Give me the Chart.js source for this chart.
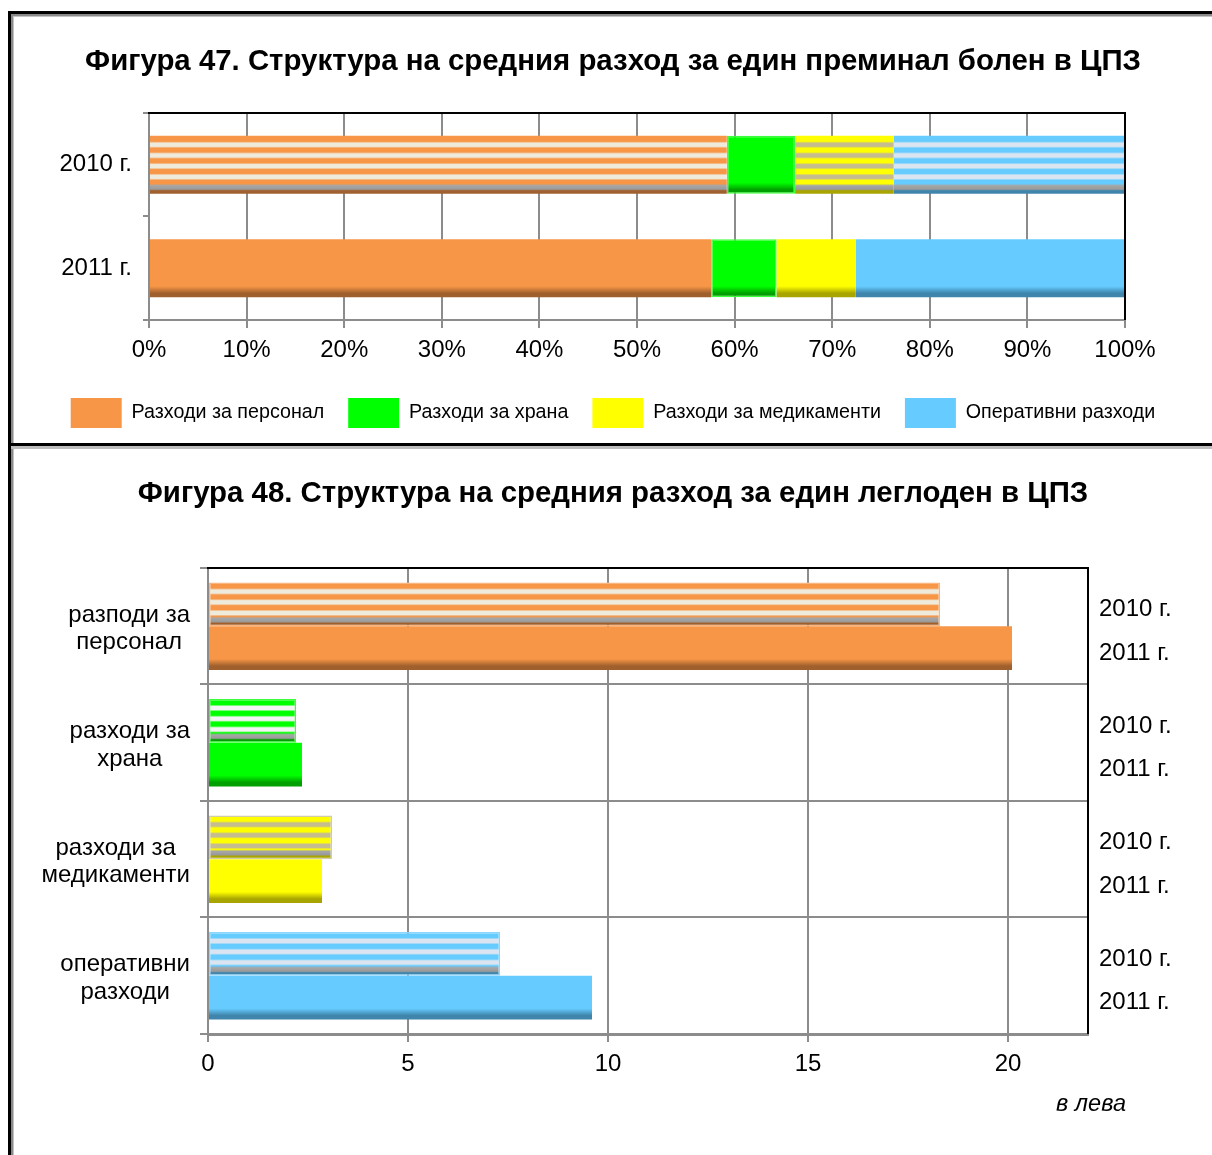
<!DOCTYPE html>
<html lang="bg">
<head>
<meta charset="utf-8">
<title>Фигура 47 и 48</title>
<script src="https://cdn.jsdelivr.net/npm/chart.js@4.4.1/dist/chart.umd.min.js"></script>
<style>
  html, body { margin: 0; padding: 0; background: #fff; }
  body { width: 1212px; height: 1155px; position: relative; overflow: hidden; }
  .ln { position: absolute; }
  .box { position: absolute; left: 14px; width: 1198px; }
  #box47 { top: 17px; height: 426px; }
  #box48 { top: 450px; height: 705px; }
</style>
</head>
<body>
<!-- рамка на страницата -->
<div class="ln" style="left:8px;top:11px;width:3px;height:1144px;background:#000"></div>
<div class="ln" style="left:11px;top:14px;width:2px;height:1141px;background:#8a8a8a"></div>
<div class="ln" style="left:13px;top:16px;width:1px;height:1139px;background:#c4c4c4"></div>
<div class="ln" style="left:8px;top:11px;width:1204px;height:3px;background:#000"></div>
<div class="ln" style="left:11px;top:14px;width:1201px;height:2px;background:#8a8a8a"></div>
<div class="ln" style="left:13px;top:16px;width:1199px;height:1px;background:#c4c4c4"></div>
<div class="ln" style="left:11px;top:443px;width:1201px;height:3px;background:#000"></div>
<div class="ln" style="left:11px;top:446px;width:1201px;height:3px;background:#bdbdbd"></div>

<div class="box" id="box47"><canvas id="fig47"></canvas></div>
<div class="box" id="box48"><canvas id="fig48"></canvas></div>

<script>
// ---- данни ----
const years = ['2010 г.', '2011 г.'];
const costNames = ['Разходи за персонал', 'Разходи за храна', 'Разходи за медикаменти', 'Оперативни разходи'];

// Фигура 47: дял от разхода за един преминал болен, % (2010, 2011)
const sharePersonal = [59.2, 57.6];
const shareFood     = [7.0, 6.7];
const shareMeds     = [10.1, 8.1];
const shareOper     = [23.7, 27.6];
const pctTicks      = [0, 10, 20, 30, 40, 50, 60, 70, 80, 90, 100];

// Фигура 48: разход за един леглоден, лв.
const costLabels48 = [['разподи за', 'персонал'], ['разходи за', 'храна'], ['разходи за', 'медикаменти'], ['оперативни', 'разходи']];
const leva2010 = [18.3, 2.2, 3.1, 7.3];
const leva2011 = [20.1, 2.35, 2.85, 9.6];

// ---- оформление ----
const baseColors   = ['#F79646', '#00FF00', '#FFFF00', '#66CCFF'];
const stripeColors = ['#EEEBDD', '#F4F4F4', '#C6BD8E', '#DAE5F1'];
const shadeColors  = ['#A0602E', '#00A000', '#A8A400', '#3F85AC'];
const edgeColors   = ['#FAB47E', '#3CFF3C', '#D4CCA4', '#8AD6FF'];
const GRID = '#8c8c8c';
const FONT = '"Liberation Sans", Arial, Helvetica, sans-serif';
const AXIS_SIZE = 24;

Chart.defaults.font.family = FONT;
Chart.defaults.color = '#000';

// вертикален градиент за една лента: райета (2010) или плътен цвят със сянка отдолу
function makeFill(ctx, top, bottom, k, striped) {
  const h = bottom - top;
  const g = ctx.createLinearGradient(0, top, 0, bottom);
  const at = px => Math.min(1, Math.max(0, px / h));
  const base = baseColors[k];
  g.addColorStop(0, base);
  if (striped) {
    for (let c = 9; c < h - 13; c += 10.7) {
      g.addColorStop(at(c - 3.4), base);
      g.addColorStop(at(c - 1.6), stripeColors[k]);
      g.addColorStop(at(c + 1.6), stripeColors[k]);
      g.addColorStop(at(c + 3.4), base);
    }
    g.addColorStop(at(h - 10), base);
    g.addColorStop(at(h - 8), '#a6a6a6');
    g.addColorStop(at(h - 4.5), '#9a9a9a');
    g.addColorStop(at(h - 3), shadeColors[k]);
    g.addColorStop(1, shadeColors[k]);
  } else {
    g.addColorStop(at(h - 11), base);
    g.addColorStop(at(h - 4), shadeColors[k]);
    g.addColorStop(1, shadeColors[k]);
  }
  return g;
}

function barShading(colorOf, stripedOf) {
  return {
    id: 'barShading',
    beforeDatasetsDraw(chart) {
      const ctx = chart.ctx;
      chart.data.datasets.forEach((ds, di) => {
        chart.getDatasetMeta(di).data.forEach((bar, i) => {
          const top = bar.y - bar.height / 2;
          bar.options.backgroundColor = makeFill(ctx, top, top + bar.height, colorOf(di, i), stripedOf(di, i));
        });
      });
    }
  };
}

// черна рамка отгоре и отдясно на полето
const plotFrame = {
  id: 'plotFrame',
  afterDatasetsDraw(chart) {
    const { ctx, chartArea: a } = chart;
    ctx.save();
    ctx.strokeStyle = '#000';
    ctx.lineWidth = 2;
    ctx.beginPath();
    ctx.moveTo(a.left - 1, a.top);
    ctx.lineTo(a.right, a.top);
    ctx.lineTo(a.right, a.bottom);
    ctx.stroke();
    ctx.restore();
  }
};

const padAxis = w => ({
  type: 'category', position: 'right',
  grid: { display: false }, border: { display: false }, ticks: { display: false },
  afterFit: s => { s.width = w; }
});

// ---- Фигура 47 ----
const shares47 = [sharePersonal, shareFood, shareMeds, shareOper];
new Chart(document.getElementById('fig47'), {
  type: 'bar',
  data: {
    labels: years,
    datasets: shares47.map((vals, k) => ({
      label: costNames[k],
      data: vals,
      backgroundColor: () => baseColors[k],
      borderColor: () => edgeColors[k],
      borderWidth: () => (k === 1 ? 1.5 : 0),
      borderSkipped: false,
      categoryPercentage: 0.56,
      barPercentage: 1
    }))
  },
  options: {
    indexAxis: 'y',
    responsive: true,
    maintainAspectRatio: false,
    animation: false,
    layout: { padding: { left: 0, right: 0, top: 0, bottom: 5 } },
    scales: {
      x: {
        stacked: true, min: 0, max: 100,
        grid: { color: GRID, lineWidth: 2, tickLength: 8, tickColor: GRID },
        border: { color: GRID, width: 2 },
        afterBuildTicks: s => { s.ticks = pctTicks.map(v => ({ value: v })); },
        ticks: { padding: 8, font: { size: AXIS_SIZE }, callback: v => v + '%' },
        afterFit: s => { s.height = 54; }
      },
      y: {
        stacked: true,
        grid: { drawOnChartArea: false, tickLength: 6, color: GRID, lineWidth: 2 },
        border: { color: GRID, width: 2 },
        ticks: { padding: 11, font: { size: AXIS_SIZE } },
        afterFit: s => { s.width = 135; }
      },
      yPad: padAxis(87)
    },
    plugins: {
      title: {
        display: true,
        text: 'Фигура 47. Структура на средния разход за един преминал болен в ЦПЗ',
        color: '#000',
        font: { size: 29.4, weight: 'bold' },
        padding: { top: 27.4, bottom: 33.3 }
      },
      legend: {
        position: 'bottom',
        labels: {
          boxWidth: 51, boxHeight: 30, padding: 24,
          font: { size: 19.7 },
          generateLabels: chart => Chart.defaults.plugins.legend.labels.generateLabels(chart)
            .map(it => ({ ...it, lineWidth: 0, fillStyle: baseColors[it.datasetIndex] }))
        }
      },
      tooltip: { enabled: false }
    }
  },
  plugins: [barShading((di, i) => di, (di, i) => i === 0 && di !== 1), plotFrame]
});

// ---- Фигура 48 ----
// надписи на категориите вляво, годините вдясно и мерната единица
const sideLabels = {
  id: 'sideLabels',
  afterDraw(chart) {
    const { ctx, chartArea: a } = chart;
    const yScale = chart.scales.y;
    ctx.save();
    ctx.fillStyle = '#000';
    ctx.textBaseline = 'middle';
    ctx.font = AXIS_SIZE + 'px ' + FONT;
    ctx.textAlign = 'center';
    chart.data.labels.forEach((lines, i) => {
      const w = Math.max(...lines.map(s => ctx.measureText(s).width));
      const cx = a.left - 18 - w / 2;
      const cy = yScale.getPixelForTick(i) + 2.5;
      lines.forEach((s, n) => ctx.fillText(s, cx, cy + (n - (lines.length - 1) / 2) * 27.5));
    });
    ctx.textAlign = 'left';
    chart.data.datasets.forEach((ds, di) => {
      chart.getDatasetMeta(di).data.forEach(bar => ctx.fillText(ds.label, a.right + 11, bar.y + 5));
    });
    ctx.font = 'italic 23.5px ' + FONT;
    ctx.textAlign = 'right';
    ctx.fillText('в лева', a.right + 38, a.bottom + 70);
    ctx.restore();
  }
};

const leva48 = [leva2010, leva2011];
new Chart(document.getElementById('fig48'), {
  type: 'bar',
  data: {
    labels: costLabels48,
    datasets: leva48.map((vals, yi) => ({
      label: years[yi],
      data: vals,
      backgroundColor: c => baseColors[c.dataIndex],
      borderColor: c => edgeColors[c.dataIndex],
      borderWidth: () => (yi === 0 ? 1.5 : 0),
      borderSkipped: false,
      categoryPercentage: 0.75,
      barPercentage: 1
    }))
  },
  options: {
    indexAxis: 'y',
    responsive: true,
    maintainAspectRatio: false,
    animation: false,
    scales: {
      x: {
        min: 0, max: 22,
        grid: { color: GRID, lineWidth: 2, tickLength: 8, tickColor: GRID },
        border: { color: GRID, width: 3 },
        ticks: { stepSize: 5, includeBounds: false, padding: 8, font: { size: AXIS_SIZE } },
        afterFit: s => { s.height = 121; }
      },
      y: {
        grid: { color: GRID, lineWidth: 2, tickLength: 8, tickColor: GRID },
        border: { color: GRID, width: 2 },
        ticks: { display: false },
        afterFit: s => { s.width = 194; }
      },
      yPad: padAxis(124)
    },
    plugins: {
      title: {
        display: true,
        text: 'Фигура 48. Структура на средния разход за един леглоден в ЦПЗ',
        color: '#000',
        font: { size: 29.4, weight: 'bold' },
        padding: { top: 26.4, bottom: 56.3 }
      },
      legend: { display: false },
      tooltip: { enabled: false }
    }
  },
  plugins: [barShading((di, i) => i, (di, i) => di === 0), plotFrame, sideLabels]
});
</script>
</body>
</html>
